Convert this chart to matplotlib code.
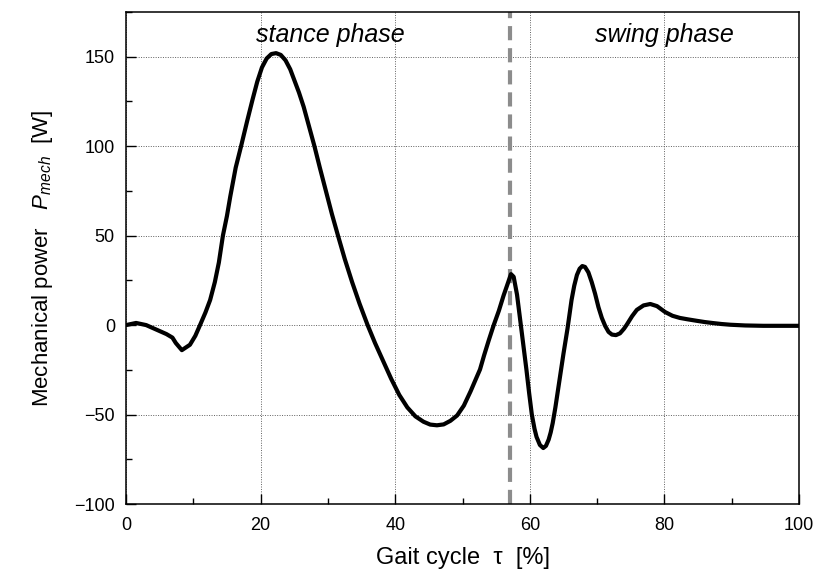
import matplotlib

matplotlib.use("Agg")
import matplotlib.pyplot as plt
from matplotlib.ticker import MultipleLocator

# gait cycle [%] and mechanical power [W]
gait_cycle = [
    0, 1.5, 3, 4.5, 6, 6.9, 7.4, 8.3, 9.5, 10.3, 11, 11.8, 12.5, 13.2, 13.8,
    14.4, 15, 15.5, 16.3, 17.1, 18, 18.8, 19.5, 20.2, 20.9, 21.6, 22.3, 23,
    23.7, 24.4, 25, 25.7, 26.4, 27.2, 28, 28.8, 29.7, 30.6, 31.5, 32.5, 33.6,
    34.7, 35.9, 37, 38.2, 39.4, 40.6, 41.8, 43, 44.2, 45.2, 46.2, 47.2, 48.2,
    49.2, 50.2, 51.2, 52, 52.6, 53.2, 53.9, 54.6, 55.4, 56.1, 56.7, 57.2,
    57.6, 58.1, 58.6, 59.1, 59.5, 59.9, 60.3, 60.7, 61.0, 61.5, 62.0, 62.4,
    62.8, 63.1, 63.4, 63.8, 64.2, 64.6, 65.0, 65.6, 66.2, 66.6, 67.0, 67.4,
    67.8, 68.2, 68.7, 69.2, 69.7, 70.2, 70.7, 71.2, 71.7, 72.2, 72.8, 73.4,
    74.0, 74.4, 75.2, 75.9, 76.9, 77.9, 78.9, 80.1, 81.2, 82.3, 83.5, 84.8,
    86, 87.3, 88.5, 89.8, 92, 94.7, 100,
]
mech_power = [
    0, 1.2, 0, -2.5, -5, -7, -10, -14, -11, -6, 0, 7, 14, 24, 35,
    50, 61, 72, 88, 100, 114, 126, 136, 144, 149, 151.5, 152, 151,
    148, 143, 137, 130, 122, 111, 100, 88, 75, 62, 50, 37, 24,
    12, 0, -10, -20, -30, -39, -46, -51, -54, -55.6, -56, -55.5, -53.5,
    -50.5, -45, -37, -30, -24.8, -17, -8.5, -0.4, 8, 16.5, 23, 28.5,
    27, 17, 2, -13, -25, -38, -50, -58, -62.5, -67, -68.7, -67.5,
    -64, -60, -54.8, -46, -36, -26, -16, -2, 14, 22, 28, 31.5,
    33, 32.5, 29.5, 24, 17.5, 10, 4, -0.5, -3.8, -5.3, -5.6, -4.6,
    -2, 0.2, 5, 8.5, 11, 11.8, 10.6, 7.3, 5.2, 4, 3.2, 2.4,
    1.7, 1.1, 0.6, 0.2, -0.2, -0.4, -0.4,
]

phase_boundary = 57.0
phase_labels = ["stance phase", "swing phase"]
phase_label_x = [30.3, 80.0]

plt.rcParams["font.family"] = ["Liberation Sans", "DejaVu Sans"]
plt.rcParams["mathtext.fontset"] = "custom"
plt.rcParams["mathtext.rm"] = "Liberation Sans"
plt.rcParams["mathtext.it"] = "Liberation Sans:italic"

fig = plt.figure(figsize=(8.16, 5.79), dpi=100)
ax = fig.add_axes([0.1544, 0.1295, 0.8248, 0.8498])

ax.plot(gait_cycle, mech_power, color="black", lw=3.0, solid_joinstyle="round",
        solid_capstyle="round", zorder=3)
ax.axvline(phase_boundary, color="#8c8c8c", lw=3.0, ls=(0, (3.4, 1.9)), zorder=2)

for label, x in zip(phase_labels, phase_label_x):
    ax.text(x, 162, label, ha="center", va="center", fontsize=18, style="italic")

ax.set_xlim(0, 100)
ax.set_ylim(-100, 175)
ax.xaxis.set_major_locator(MultipleLocator(20))
ax.xaxis.set_minor_locator(MultipleLocator(10))
ax.yaxis.set_major_locator(MultipleLocator(50))
ax.yaxis.set_minor_locator(MultipleLocator(25))

ax.tick_params(which="both", direction="in", top=False, right=False,
               labelsize=13, width=1.0)
ax.tick_params(axis="x", pad=9)
ax.tick_params(axis="y", pad=8)
ax.tick_params(which="major", length=7)
ax.tick_params(which="minor", length=4)
ax.grid(True, which="major", color="#606060", lw=0.7, ls=(0, (1, 1.5)))
for spine in ax.spines.values():
    spine.set_linewidth(1.1)

ax.set_xlabel("Gait cycle  τ  [%]", fontsize=17, labelpad=10)
ax.set_ylabel(r"Mechanical power   $P_{mech}$  [W]", fontsize=16, labelpad=14)

fig.savefig("out.png", dpi=100)
plt.close(fig)
